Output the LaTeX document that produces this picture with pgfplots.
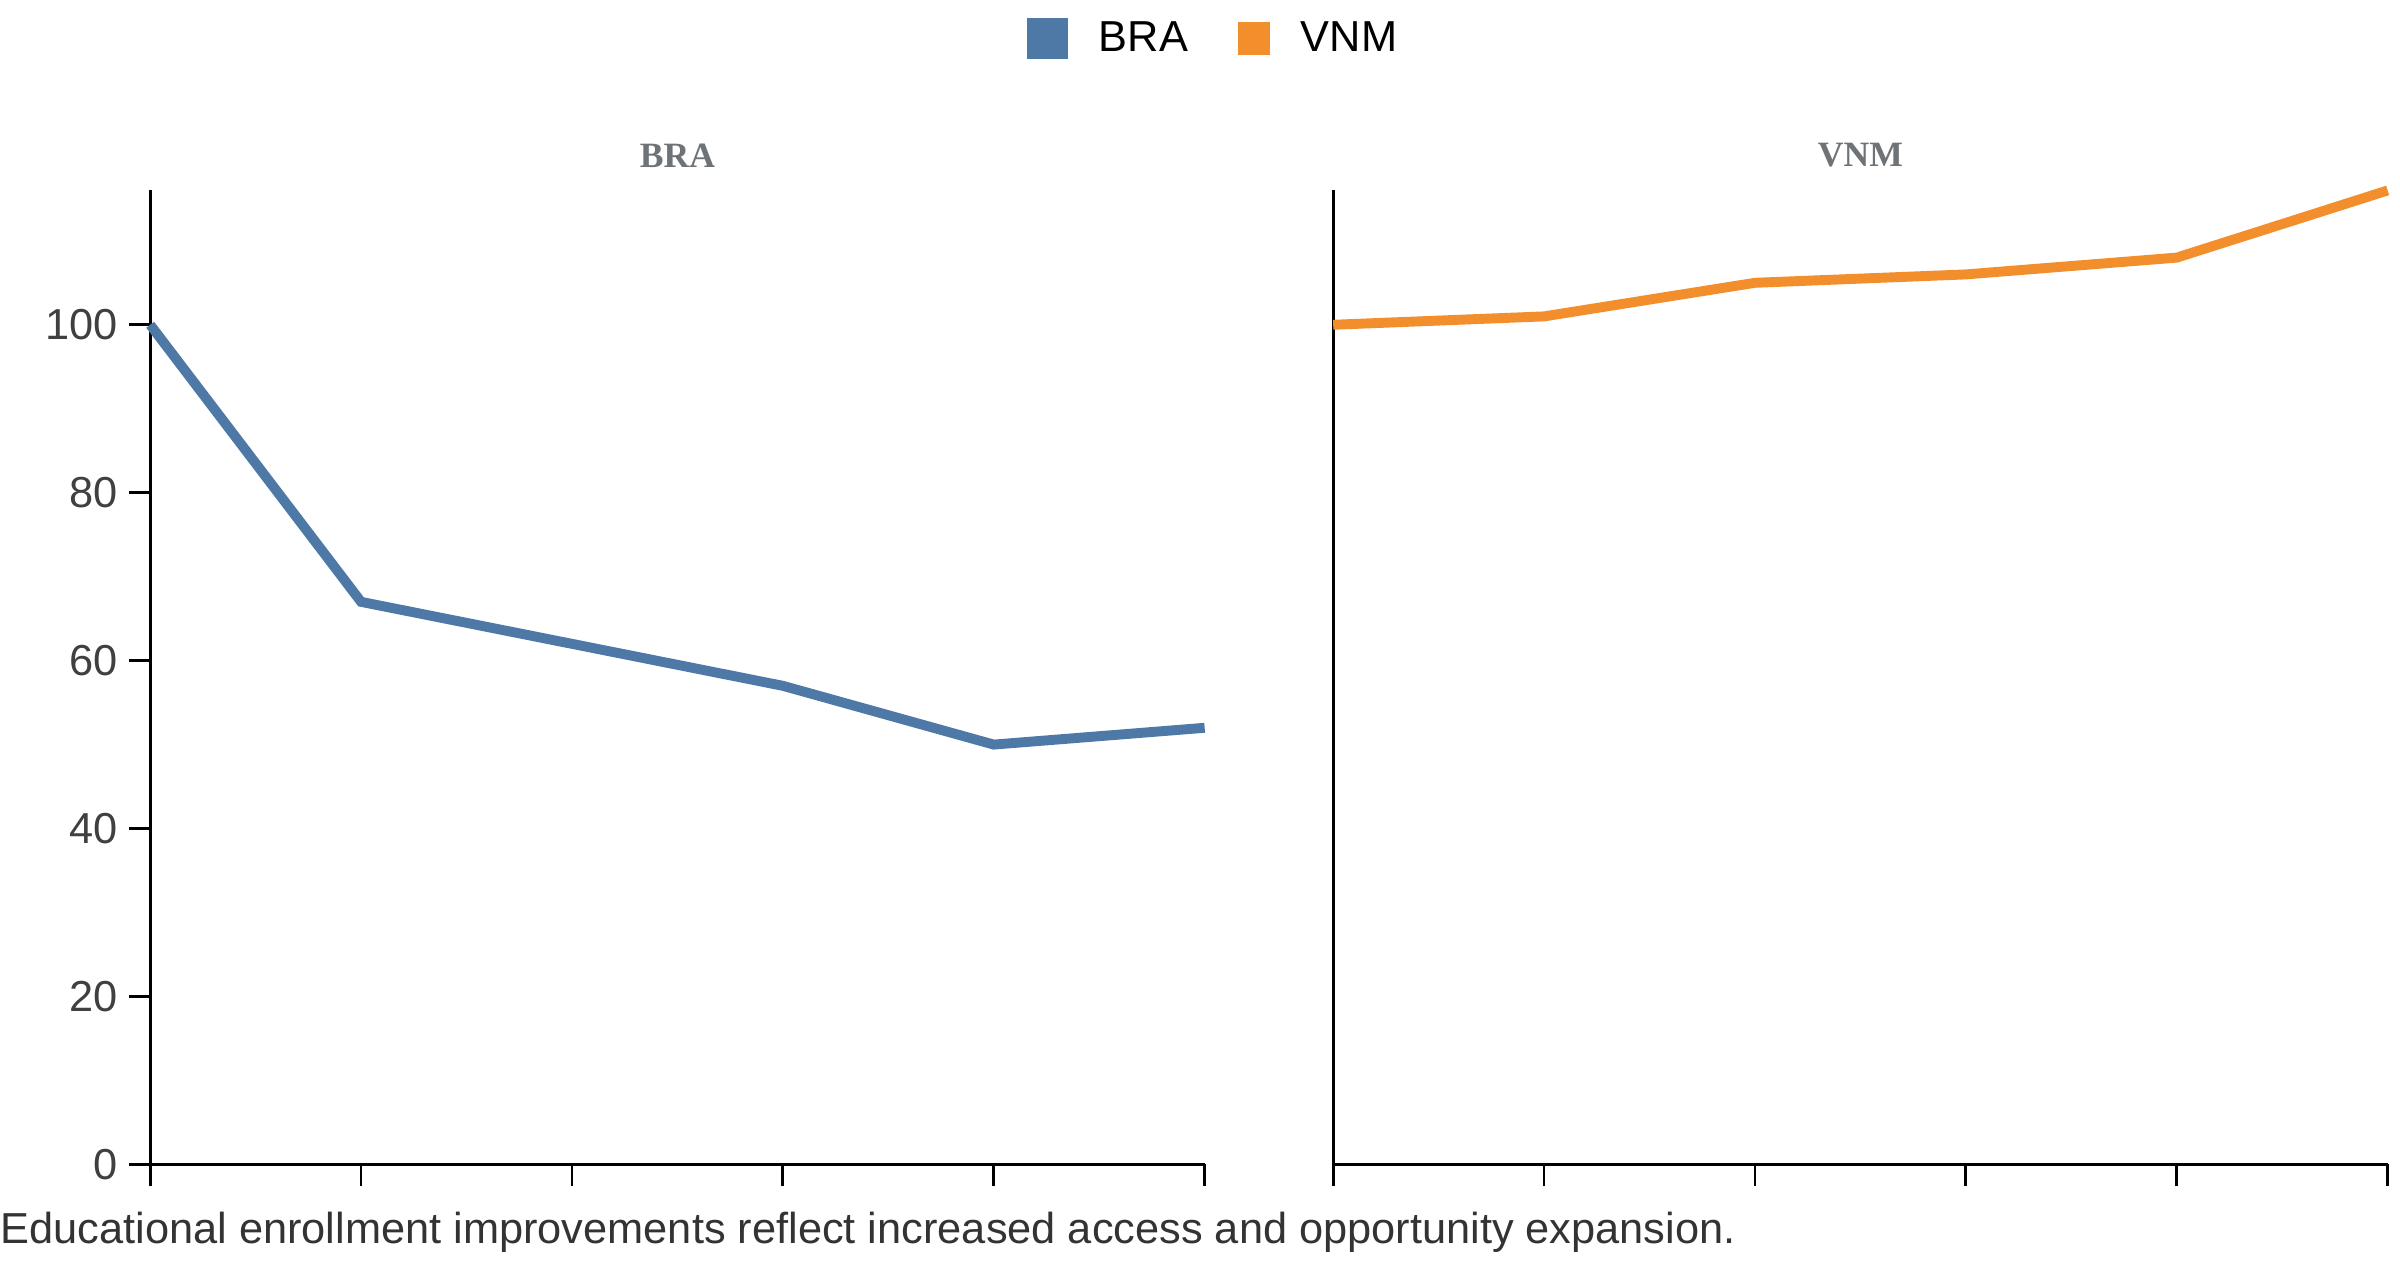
\documentclass[border=0pt]{standalone}
\usepackage{pgfplots}
\pgfplotsset{compat=1.18}
\usepackage{fontspec}
\setmainfont{Liberation Sans}
\newfontfamily\serifb{Liberation Serif}
\definecolor{cblue}{HTML}{4E79A7}
\definecolor{corange}{HTML}{F28E2B}
\definecolor{tgray}{HTML}{6E7378}
\begin{document}
\begin{tikzpicture}
\path (0,0) rectangle (775pt,410pt);
\pgfplotsset{
  myax/.style={
    scale only axis, width=340.5pt, height=314.5pt,
    xmin=0, xmax=5, ymin=0, ymax=116,
    axis x line*=bottom, axis y line*=left,
    xtick={0,1,2,3,4,5}, xticklabels={},
    tick align=outside, major tick length=7pt,
    tick style={black, line width=0.9pt},
    axis line style={black, line width=0.9pt},
    ticklabel style={font=\fontsize{14}{16}\selectfont, text=black!75},
    /pgf/number format/assume math mode=true,
    title style={font=\serifb\bfseries\fontsize{11.5}{13}\selectfont, text=tgray, yshift=-2pt},
    clip=false,
  }
}
\begin{axis}[myax, at={(48.5pt,34pt)}, anchor=origin,
  ytick={0,20,40,60,80,100}, title={BRA},
  legend columns=2,
  legend style={at={(1.01,1.156)}, anchor=center, draw=none,
    font=\fontsize{14}{16}\selectfont, /tikz/every even column/.append style={column sep=14pt},
    /tikz/every odd column/.append style={column sep=8pt}},
  legend image code/.code={\fill[#1] (0pt,-5pt) rectangle (10pt,5pt);}]
\addplot[cblue, line width=3.2pt] coordinates {(0,100) (1,67) (2,62) (3,57) (4,50) (5,52)};
\addlegendentry{BRA}
\addlegendimage{corange, fill=corange}
\addlegendentry{VNM}
\end{axis}
\begin{axis}[myax, at={(430.5pt,34pt)}, anchor=origin,
  ytick=\empty, title={VNM}]
\addplot[corange, line width=3.2pt] coordinates {(0,100) (1,101) (2,105) (3,106) (4,108) (5,116)};
\end{axis}
\node[anchor=west, inner sep=0pt, font=\fontsize{14}{16}\selectfont, text=black!80] at (0pt,12pt)
  {Educational enrollment improvements reflect increased access and opportunity expansion.};
\end{tikzpicture}
\end{document}
